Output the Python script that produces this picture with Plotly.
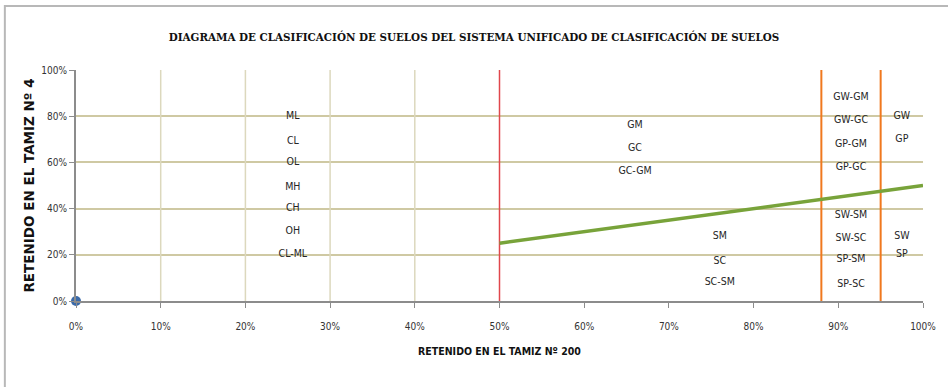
import plotly.graph_objects as go

# Fraction retained on sieve No. 200 (x) and on sieve No. 4 (y)
tick_vals = [0, 0.1, 0.2, 0.3, 0.4, 0.5, 0.6, 0.7, 0.8, 0.9, 1.0]
tick_text = ["0%", "10%", "20%", "30%", "40%", "50%", "60%", "70%", "80%", "90%", "100%"]
y_tick_vals = [0, 0.2, 0.4, 0.6, 0.8, 1.0]
y_tick_text = ["0%", "20%", "40%", "60%", "80%", "100%"]

# Sample point
sample_x = [0.0]
sample_y = [0.0]

# Boundaries of the classification zones
fine_coarse_limit = [0.5]          # 50% retained on No. 200
fines_limits = [0.88, 0.95]        # 12% and 5% fines
gravel_sand_x = [0.5, 1.0]
gravel_sand_y = [0.25, 0.5]        # half of the coarse fraction
light_grid_x = [0.1, 0.2, 0.3, 0.4]

# Soil group symbols per zone
fine_labels = ["ML", "CL", "OL", "MH", "CH", "OH", "CL-ML"]
fine_y = [0.80, 0.69, 0.60, 0.49, 0.40, 0.30, 0.20]
gravel_labels = ["GM", "GC", "GC-GM"]
gravel_y = [0.76, 0.66, 0.56]
sand_labels = ["SM", "SC", "SC-SM"]
sand_y = [0.28, 0.17, 0.08]
dual_gravel_labels = ["GW-GM", "GW-GC", "GP-GM", "GP-GC"]
dual_gravel_y = [0.88, 0.78, 0.68, 0.58]
dual_sand_labels = ["SW-SM", "SW-SC", "SP-SM", "SP-SC"]
dual_sand_y = [0.37, 0.27, 0.18, 0.07]
clean_gravel_labels = ["GW", "GP"]
clean_gravel_y = [0.80, 0.70]
clean_sand_labels = ["SW", "SP"]
clean_sand_y = [0.28, 0.20]

LABEL_FONT = "DejaVu Sans Condensed"
TITLE_FONT = "DejaVu Serif Condensed"

fig = go.Figure()

# light vertical grid on the fine-grained side
for gx in light_grid_x:
    fig.add_trace(go.Scatter(x=[gx, gx], y=[0, 1], mode="lines",
                             line=dict(color="#dcd8bd", width=1.5),
                             hoverinfo="skip", showlegend=False))

for fx in fine_coarse_limit:
    fig.add_trace(go.Scatter(x=[fx, fx], y=[0, 1], mode="lines",
                             line=dict(color="#e0474c", width=1.5),
                             showlegend=False))
for fx in fines_limits:
    fig.add_trace(go.Scatter(x=[fx, fx], y=[0, 1], mode="lines",
                             line=dict(color="#f0781e", width=2),
                             showlegend=False))

fig.add_trace(go.Scatter(x=gravel_sand_x, y=gravel_sand_y, mode="lines",
                         line=dict(color="#78a33a", width=3.5),
                         showlegend=False))

def label_group(x, ys, texts):
    fig.add_trace(go.Scatter(x=[x] * len(ys), y=ys, text=texts, mode="text",
                             textfont=dict(family=LABEL_FONT, size=10.5, color="#262626"),
                             textposition="middle center", showlegend=False,
                             hoverinfo="text"))

label_group(0.256, fine_y, fine_labels)
label_group(0.66, gravel_y, gravel_labels)
label_group(0.76, sand_y, sand_labels)
label_group(0.915, dual_gravel_y, dual_gravel_labels)
label_group(0.915, dual_sand_y, dual_sand_labels)
label_group(0.975, clean_gravel_y, clean_gravel_labels)
label_group(0.975, clean_sand_y, clean_sand_labels)

fig.add_trace(go.Scatter(x=sample_x, y=sample_y, mode="markers",
                         marker=dict(color="#3b6aa9", size=10),
                         cliponaxis=False, showlegend=False))

fig.update_layout(
    width=948, height=387,
    margin=dict(l=76, r=15, t=70, b=86),
    paper_bgcolor="white", plot_bgcolor="white",
    title=dict(text="<b>DIAGRAMA DE CLASIFICACIÓN DE SUELOS DEL SISTEMA UNIFICADO DE CLASIFICACIÓN DE SUELOS</b>",
               x=0.5, xanchor="center", y=0.905, yanchor="middle",
               font=dict(family=TITLE_FONT, size=11.5, color="#111111")),
    xaxis=dict(range=[0, 1], tickvals=tick_vals, ticktext=tick_text,
               showgrid=False, zeroline=False,
               showline=True, linecolor="#8c8c8c", linewidth=2,
               ticks="outside", ticklen=5, tickcolor="#8c8c8c",
               ticklabelstandoff=10,
               tickfont=dict(family=LABEL_FONT, size=10, color="#333333"),
               title=dict(text="<b>RETENIDO EN EL TAMIZ Nº 200</b>", standoff=17,
                          font=dict(family=LABEL_FONT, size=10.5, color="#111111"))),
    yaxis=dict(range=[0, 1], tickvals=y_tick_vals, ticktext=y_tick_text,
               showgrid=True, gridcolor="#cfc9a3", gridwidth=2, zeroline=False,
               showline=True, linecolor="#8c8c8c", linewidth=2,
               ticks="outside", ticklen=5, tickcolor="#8c8c8c",
               tickfont=dict(family=LABEL_FONT, size=10, color="#333333"),
               title=dict(text="<b>RETENIDO EN EL TAMIZ Nº 4</b>", standoff=4,
                          font=dict(family="DejaVu Sans", size=13.5, color="#111111"))),
    shapes=[dict(type="rect", xref="paper", yref="paper",
                 x0=-0.084, x1=1.2, y0=-2, y1=1.277,
                 line=dict(color="#b8b8b8", width=2), layer="below")],
)

fig.write_html("out.html")
